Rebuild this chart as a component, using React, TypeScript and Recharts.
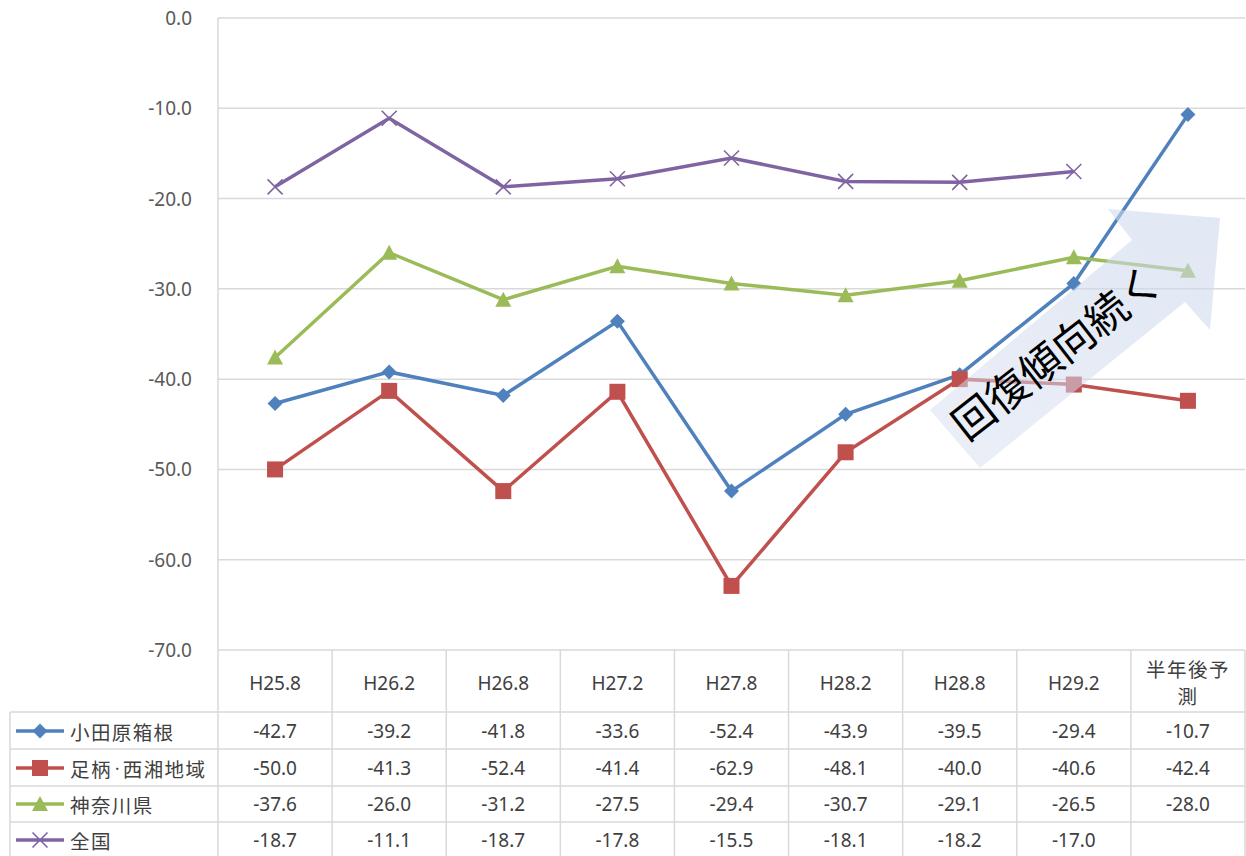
import React from 'react';
import { LineChart, Line, XAxis, YAxis, CartesianGrid } from 'recharts';

const categories = ['H25.8', 'H26.2', 'H26.8', 'H27.2', 'H27.8', 'H28.2', 'H28.8', 'H29.2', '半年後予測'];
const odawaraHakone = [-42.7, -39.2, -41.8, -33.6, -52.4, -43.9, -39.5, -29.4, -10.7];
const ashigaraSeisho = [-50.0, -41.3, -52.4, -41.4, -62.9, -48.1, -40.0, -40.6, -42.4];
const kanagawa = [-37.6, -26.0, -31.2, -27.5, -29.4, -30.7, -29.1, -26.5, -28.0];
const zenkoku: (number | null)[] = [-18.7, -11.1, -18.7, -17.8, -15.5, -18.1, -18.2, -17.0, null];
const seriesNames = ['小田原箱根', '足柄・西湘地域', '神奈川県', '全国'];
const yTicks = [0, -10, -20, -30, -40, -50, -60, -70];
const annotationText = '回復傾向続く';

const W = 1246;
const H = 856;
const PLOT_LEFT = 218;
const PLOT_RIGHT = 1245;
const PLOT_TOP = 18;
const AXIS_Y = 650;
const COL_W = (PLOT_RIGHT - PLOT_LEFT) / categories.length;
const ROW_LINES = [712, 749, 786, 822];
const ROW_CENTERS = [731, 768, 804, 840];
const GRID = '#d9d9d9';
const TEXT = '#404040';
const NUM_FONT = "'Noto Sans', 'Noto Sans CJK JP', sans-serif";
const CJK_FONT = "'Noto Sans CJK JP', 'Noto Sans', sans-serif";

const series = [
  { key: 's0', name: seriesNames[0], values: odawaraHakone, color: '#4f81bd', marker: 'diamond' },
  { key: 's1', name: seriesNames[1], values: ashigaraSeisho, color: '#c0504d', marker: 'square' },
  { key: 's2', name: seriesNames[2], values: kanagawa, color: '#9bbb59', marker: 'triangle' },
  { key: 's3', name: seriesNames[3], values: zenkoku, color: '#8064a2', marker: 'x' },
];

const data = categories.map((cat, i) => {
  const row: Record<string, any> = { cat };
  series.forEach((s) => {
    row[s.key] = s.values[i];
  });
  return row;
});

function Marker({ type, cx, cy, color }: { type: string; cx: number; cy: number; color: string }) {
  if (cx == null || cy == null || isNaN(cx) || isNaN(cy)) return null;
  if (type === 'diamond') {
    const r = 7.5;
    return <polygon points={`${cx},${cy - r} ${cx + r},${cy} ${cx},${cy + r} ${cx - r},${cy}`} fill={color} />;
  }
  if (type === 'square') {
    const r = 8;
    return <rect x={cx - r} y={cy - r} width={2 * r} height={2 * r} fill={color} />;
  }
  if (type === 'triangle') {
    return <polygon points={`${cx},${cy - 8} ${cx + 8},${cy + 7} ${cx - 8},${cy + 7}`} fill={color} />;
  }
  const r = 7.5;
  return (
    <g stroke={color} strokeWidth={1.6}>
      <line x1={cx - r} y1={cy - r} x2={cx + r} y2={cy + r} />
      <line x1={cx - r} y1={cy + r} x2={cx + r} y2={cy - r} />
    </g>
  );
}

const YTick = (props: any) => {
  const { y, payload } = props;
  return (
    <text x={192} y={y} textAnchor="end" dominantBaseline="central" fill="#595959" fontSize={19} fontFamily={NUM_FONT}>
      {Number(payload.value).toFixed(1)}
    </text>
  );
};

function splitHeader(label: string): string[] {
  if (/^[\x00-\x7f]+$/.test(label) || label.length <= 4) return [label];
  return [label.slice(0, 4), label.slice(4)];
}

function renderName(name: string) {
  const parts = name.split('・');
  if (parts.length === 1) return name;
  const out: React.ReactNode[] = [];
  parts.forEach((p, k) => {
    if (k > 0) {
      out.push(
        <tspan key={`d${k}`} fontSize={11} letterSpacing={0}>
          ・
        </tspan>
      );
    }
    out.push(<tspan key={`p${k}`}>{p}</tspan>);
  });
  return out;
}

const TableTick = (props: any) => {
  const { x, payload } = props;
  const idx = payload.index;
  const left = x - COL_W / 2;
  const right = x + COL_W / 2;
  const lines = splitHeader(String(payload.value));
  const isAscii = lines.length === 1 && /^[\x00-\x7f]+$/.test(lines[0]);
  return (
    <g>
      {idx === 0 && <line x1={left} y1={AXIS_Y} x2={left} y2={H} stroke={GRID} strokeWidth={1.5} />}
      <line x1={right} y1={AXIS_Y} x2={right} y2={H} stroke={GRID} strokeWidth={1.5} />
      {ROW_LINES.map((ly) => (
        <line key={ly} x1={left} y1={ly} x2={right} y2={ly} stroke={GRID} strokeWidth={1.5} />
      ))}
      {lines.length === 1 ? (
        <text x={x} y={683} textAnchor="middle" dominantBaseline="central" fill={TEXT} fontSize={isAscii ? 19 : 19.5} fontFamily={isAscii ? NUM_FONT : CJK_FONT}>
          {lines[0]}
        </text>
      ) : (
        lines.map((t, k) => (
          <text key={k} x={x} y={668 + k * 27} textAnchor="middle" dominantBaseline="central" fill={TEXT} fontSize={19.5} letterSpacing={1.5} fontFamily={CJK_FONT}>
            {t}
          </text>
        ))
      )}
      {series.map((s, r) => {
        const v = s.values[idx];
        if (v == null) return null;
        return (
          <text key={s.key} x={x} y={ROW_CENTERS[r]} textAnchor="middle" dominantBaseline="central" fill={TEXT} fontSize={19} fontFamily={NUM_FONT}>
            {v.toFixed(1)}
          </text>
        );
      })}
    </g>
  );
};

function LegendColumn() {
  return (
    <g>
      <line x1={10} y1={ROW_LINES[0]} x2={10} y2={H} stroke={GRID} strokeWidth={1.5} />
      {ROW_LINES.map((ly) => (
        <line key={ly} x1={10} y1={ly} x2={PLOT_LEFT} y2={ly} stroke={GRID} strokeWidth={1.5} />
      ))}
      {series.map((s, r) => (
        <g key={s.key}>
          <line x1={16} y1={ROW_CENTERS[r]} x2={64} y2={ROW_CENTERS[r]} stroke={s.color} strokeWidth={3.5} />
          <Marker type={s.marker} cx={40} cy={ROW_CENTERS[r]} color={s.color} />
          <text x={70} y={ROW_CENTERS[r]} dominantBaseline="central" fill={TEXT} fontSize={19.5} letterSpacing={1.4} fontFamily={CJK_FONT}>
            {renderName(s.name)}
          </text>
        </g>
      ))}
    </g>
  );
}

export default function App() {
  return (
    <div style={{ position: 'absolute', left: 0, top: 0, width: W, height: H, background: '#fff' }}>
      <LineChart width={W} height={H} data={data} margin={{ top: PLOT_TOP, right: W - PLOT_RIGHT, bottom: 0, left: 0 }}>
        <CartesianGrid vertical={false} stroke={GRID} strokeWidth={1.5} />
        <YAxis
          type="number"
          domain={[-70, 0]}
          ticks={yTicks}
          width={PLOT_LEFT}
          axisLine={{ stroke: GRID, strokeWidth: 1.5 }}
          tickLine={false}
          tick={<YTick />}
          interval={0}
        />
        <XAxis
          dataKey="cat"
          height={H - AXIS_Y}
          axisLine={false}
          tickLine={false}
          interval={0}
          padding={{ left: COL_W / 2, right: COL_W / 2 }}
          tick={<TableTick />}
        />
        {series.map((s) => (
          <Line
            key={s.key}
            dataKey={s.key}
            name={s.name}
            type="linear"
            stroke={s.color}
            strokeWidth={3.5}
            isAnimationActive={false}
            connectNulls={false}
            dot={(p: any) => <Marker key={`${s.key}-${p.index}`} type={s.marker} cx={p.cx} cy={p.cy} color={s.color} />}
            activeDot={false}
          />
        ))}
      </LineChart>
      <svg width={W} height={H} style={{ position: 'absolute', left: 0, top: 0, pointerEvents: 'none' }}>
        <defs>
          <linearGradient id="arrowFill" x1="0" y1="1" x2="1" y2="0">
            <stop offset="0" stopColor="#d5def0" stopOpacity={0.5} />
            <stop offset="1" stopColor="#cdd8ec" stopOpacity={0.6} />
          </linearGradient>
        </defs>
        <LegendColumn />
        <polygon points="930,410 1132,240 1108,209 1220,218 1210,330 1185,302 980,468" fill="url(#arrowFill)" />
        <text
          x={1055}
          y={350}
          transform="rotate(-38 1055 350)"
          textAnchor="middle"
          dominantBaseline="central"
          fontSize={42}
          fill="#000"
          fontFamily={CJK_FONT}
        >
          {annotationText}
        </text>
      </svg>
    </div>
  );
}
